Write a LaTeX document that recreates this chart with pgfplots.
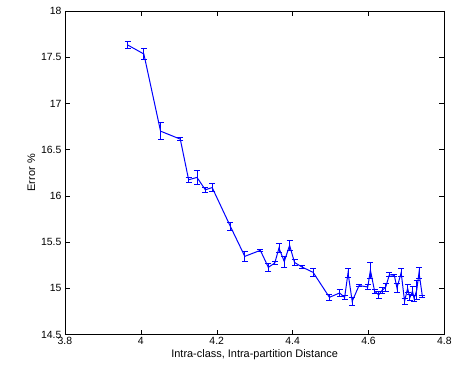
\documentclass[border=0pt]{standalone}
\usepackage{fontspec}
\setmainfont{Liberation Sans}
\usepackage{pgfplots}
\pgfplotsset{compat=1.18}
\definecolor{mblue}{rgb}{0,0,1}
\begin{document}
\begin{tikzpicture}
\begin{axis}[
  scale only axis,
  width=380bp, height=324bp,
  xmin=3.8, xmax=4.8, ymin=14.5, ymax=18,
  xtick={3.8,4,4.2,4.4,4.6,4.8},
  ytick={14.5,15,15.5,16,16.5,17,17.5,18},
  xticklabels={3.8,4,4.2,4.4,4.6,4.8},
  yticklabels={14.5,15,15.5,16,16.5,17,17.5,18},
  tick align=inside,
  major tick length=5bp,
  tick style={black, line width=0.4pt},
  axis line style={black, line width=0.5pt},
  xticklabel style={font=\fontsize{10.5}{12}\selectfont, yshift=1bp},
  yticklabel style={font=\fontsize{10.5}{12}\selectfont},
  xlabel={Intra-class, Intra-partition Distance},
  ylabel={Error \%},
  xlabel style={font=\fontsize{11}{13}\selectfont, yshift=2bp},
  ylabel style={font=\fontsize{11}{13}\selectfont, yshift=-1bp},
  /pgf/number format/assume math mode=true,
  clip=false,
]
\addplot[color=mblue, line width=1pt, mark=none,
  error bars/.cd, y dir=both, y explicit,
  error mark options={rotate=90, mark size=3bp, line width=0.9pt, mblue},
  error bar style={line width=0.9pt, mblue}]
  table[x=x, y=y, y error=e] {
x y e
3.965 17.633 0.04
4.008 17.535 0.06
4.052 16.700 0.09
4.104 16.614 0.015
4.126 16.174 0.03
4.148 16.200 0.075
4.170 16.066 0.03
4.188 16.090 0.045
4.236 15.670 0.04
4.274 15.346 0.05
4.315 15.411 0.015
4.336 15.227 0.04
4.353 15.274 0.02
4.364 15.436 0.05
4.378 15.290 0.06
4.392 15.465 0.05
4.405 15.280 0.035
4.425 15.230 0.015
4.454 15.173 0.04
4.497 14.903 0.03
4.524 14.950 0.04
4.537 14.900 0.02
4.546 15.166 0.05
4.557 14.860 0.04
4.575 15.030 0.01
4.598 15.015 0.03
4.605 15.195 0.09
4.616 14.970 0.02
4.627 14.930 0.04
4.636 14.980 0.03
4.645 15.010 0.04
4.655 15.148 0.02
4.668 15.140 0.01
4.675 15.004 0.05
4.686 15.170 0.04
4.695 14.860 0.035
4.703 15.000 0.04
4.709 14.900 0.03
4.716 14.970 0.05
4.720 14.890 0.03
4.727 14.980 0.10
4.733 15.170 0.06
4.742 14.910 0.01
};
\end{axis}
\path (current axis.south west) ++(-65bp,-48bp) coordinate (bbA);
\path (current axis.north east) ++(10bp,11bp) coordinate (bbB);
\path (bbA) rectangle (bbB);
\end{tikzpicture}
\end{document}
